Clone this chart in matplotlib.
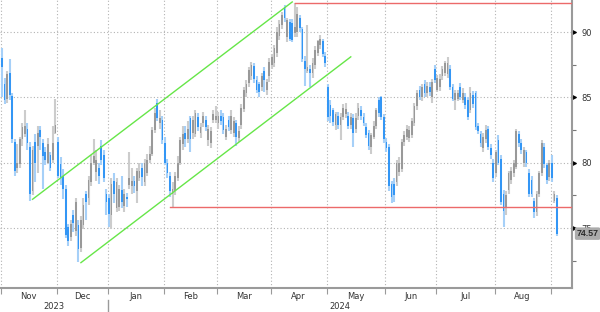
import matplotlib
matplotlib.use("Agg")
import matplotlib.pyplot as plt
import matplotlib.markers as mmarkers
import matplotlib.transforms as mtransforms
import numpy as np
import pandas as pd

# daily OHLC (Nov 1 2023 .. Sep 4 2024)
opens = [
    88.0, 86.0, 84.9, 86.9, 85.1, 81.6, 79.6, 79.9, 81.8, 82.2, 82.6, 81.2, 77.8, 81.6, 81.3, 82.5, 81.5, 80.8, 80.0,
    80.6, 80.2, 82.3, 81.6, 79.9, 79.0, 78.0, 75.1, 74.3, 76.0, 74.8, 75.2, 73.5, 75.2, 77.6, 77.3, 78.5, 80.0,
    79.3, 79.6, 81.3, 80.6, 77.6, 77.3, 76.0, 78.6, 76.5, 76.6, 77.9, 76.7, 77.4, 78.3, 78.2, 78.6, 77.8, 78.8, 79.6,
    78.5, 79.2, 80.2, 80.7, 82.5, 84.6, 83.0, 83.3, 81.5, 80.0, 79.0, 77.6, 77.8, 78.8, 80.0, 81.4, 82.3, 81.8,
    83.4, 82.3, 82.2, 83.5, 82.3, 83.0, 83.3, 81.7, 81.5, 83.3, 83.3, 83.0, 83.6, 83.5, 82.0, 83.3, 82.5, 82.3, 83.0,
    81.9, 82.9, 84.1, 85.3, 86.1, 86.6, 87.4, 86.3, 86.0, 85.8, 87.0, 85.6, 86.6, 87.5, 87.6, 88.4, 89.7, 90.5, 91.9,
    89.6, 90.8, 90.7, 89.9, 90.0, 91.1, 90.2, 87.8, 87.0, 87.2, 86.9, 87.5, 88.4, 89.0, 89.3, 88.2, 85.8, 84.4, 84.0,
    82.9, 83.6, 82.9, 83.5, 83.7, 83.6, 82.9, 83.4, 82.6, 83.6, 84.0, 83.5, 82.7, 82.3, 81.2, 82.0, 82.8, 84.8,
    85.0, 83.5, 81.6, 81.2, 78.4, 78.4, 78.5, 79.3, 79.5, 81.6, 82.0, 81.9, 82.1, 83.0, 84.3, 85.6, 85.0, 86.0, 85.3,
    85.8, 85.0, 87.2, 85.6, 85.8, 86.6, 86.9, 86.8, 87.2, 85.8, 84.8, 84.9, 85.8, 84.8, 85.0, 84.8, 84.0, 85.2,
    85.3, 82.8, 82.2, 81.1, 81.8, 82.6, 81.1, 80.0, 79.2, 81.7, 80.3, 77.6, 76.6, 77.9, 78.7, 79.2, 79.7, 82.2, 81.5,
    80.0, 80.8, 79.2, 78.7, 77.1, 76.2, 77.6, 79.2, 81.2, 79.8, 78.9, 80.0, 77.1, 77.3,
]
highs = [
    88.8, 86.5, 87.0, 87.9, 85.3, 81.8, 81.4, 82.0, 83.0, 84.0, 83.0, 81.6, 81.3, 82.2, 82.8, 82.8, 81.8, 81.2, 81.9,
    80.8, 82.8, 84.9, 82.0, 80.4, 79.5, 78.3, 75.3, 75.6, 76.4, 77.3, 75.6, 75.9, 77.3, 77.8, 79.0, 80.6, 81.8,
    81.0, 80.0, 81.7, 81.0, 78.0, 77.6, 78.8, 79.2, 78.8, 78.3, 79.0, 78.0, 77.7, 80.8, 79.6, 79.0, 79.6, 80.0, 80.0,
    80.3, 80.7, 81.3, 82.7, 84.2, 84.9, 84.0, 83.6, 82.0, 80.3, 79.3, 78.5, 79.3, 80.5, 82.0, 82.8, 82.8, 83.2,
    83.6, 83.6, 84.0, 83.8, 83.0, 83.9, 83.6, 82.9, 82.7, 84.0, 84.3, 83.9, 84.0, 83.8, 82.9, 83.6, 84.0, 83.5, 83.3,
    82.8, 84.5, 85.8, 86.3, 87.3, 87.7, 87.6, 86.6, 86.2, 86.9, 87.3, 86.4, 88.0, 88.3, 89.0, 90.4, 90.9, 91.5, 92.1,
    91.1, 91.0, 91.0, 92.2, 91.9, 91.3, 90.4, 88.2, 90.5, 87.5, 88.0, 88.9, 89.4, 89.8, 89.5, 88.5, 86.0, 84.8, 84.2,
    83.9, 83.9, 83.8, 84.5, 84.6, 83.9, 83.8, 83.7, 83.8, 84.6, 84.3, 83.8, 83.0, 82.5, 82.3, 83.2, 84.2, 85.0,
    85.1, 83.7, 81.9, 81.4, 78.6, 78.8, 80.2, 80.4, 81.8, 82.4, 82.9, 82.8, 83.4, 84.6, 85.6, 85.9, 86.0, 86.3, 86.2,
    86.2, 86.4, 87.5, 86.7, 86.8, 87.4, 87.8, 88.1, 87.5, 86.0, 85.6, 85.6, 86.1, 85.7, 85.3, 85.0, 85.8, 85.5,
    85.5, 83.0, 82.4, 82.3, 82.9, 82.8, 81.4, 80.3, 81.0, 82.1, 80.6, 77.9, 77.8, 79.4, 79.7, 80.2, 82.6, 82.4, 81.8,
    81.2, 81.0, 79.5, 79.0, 77.3, 77.8, 79.4, 81.7, 81.5, 80.0, 80.2, 80.6, 77.8, 77.5,
]
lows = [
    85.0, 84.5, 84.6, 84.8, 81.5, 79.0, 79.2, 79.6, 81.3, 82.0, 81.0, 77.1, 77.5, 78.5, 79.2, 81.0, 78.0, 79.8, 79.9,
    79.4, 80.0, 82.2, 78.8, 78.3, 77.2, 74.2, 73.6, 74.0, 74.7, 74.4, 72.4, 73.2, 74.9, 75.6, 76.8, 78.2, 79.8,
    78.6, 78.4, 79.8, 78.5, 76.0, 75.1, 74.9, 76.9, 76.2, 76.3, 76.5, 76.2, 76.6, 78.0, 77.6, 77.7, 76.9, 78.6, 78.2,
    78.2, 79.0, 80.0, 80.5, 82.3, 83.2, 82.6, 81.4, 79.8, 78.8, 77.4, 76.6, 77.5, 78.6, 79.8, 81.0, 81.2, 81.5,
    80.8, 81.8, 82.0, 82.4, 81.9, 82.7, 82.4, 81.3, 81.1, 83.0, 83.0, 82.6, 82.9, 82.2, 81.7, 82.4, 82.2, 82.0, 81.3,
    81.6, 82.6, 83.9, 85.0, 85.8, 86.3, 86.1, 85.3, 85.0, 85.5, 85.4, 85.2, 86.2, 87.2, 87.3, 88.1, 89.4, 90.2, 90.8,
    89.2, 89.3, 89.2, 89.6, 89.6, 90.0, 87.7, 85.9, 86.9, 85.8, 86.5, 87.2, 88.2, 88.7, 88.1, 87.3, 83.2, 83.0, 82.8,
    82.5, 82.6, 81.7, 83.3, 83.4, 82.6, 82.6, 81.2, 82.3, 83.3, 83.3, 82.8, 81.9, 81.0, 80.7, 81.8, 82.6, 83.5,
    83.3, 81.5, 80.8, 77.8, 76.9, 77.0, 78.2, 79.0, 79.3, 81.3, 81.7, 81.6, 81.9, 82.8, 84.0, 84.8, 84.7, 85.0, 85.0,
    85.1, 84.6, 86.1, 85.4, 85.5, 86.3, 86.6, 86.5, 85.6, 84.7, 84.0, 84.7, 84.8, 84.6, 84.1, 83.3, 83.8, 84.2,
    82.5, 82.2, 81.2, 80.8, 81.5, 81.0, 80.3, 78.5, 78.9, 79.8, 76.8, 75.1, 76.0, 77.6, 78.4, 78.9, 79.5, 81.2, 80.7,
    79.7, 79.7, 77.4, 77.4, 75.8, 75.9, 77.4, 79.0, 79.6, 78.4, 78.6, 78.5, 76.9, 74.4,
]
closes = [
    87.3, 84.8, 86.8, 85.2, 81.8, 79.4, 80.0, 81.8, 82.7, 82.8, 81.5, 77.6, 81.0, 80.0, 82.3, 82.0, 80.5, 80.2, 81.4,
    79.6, 81.5, 82.9, 79.0, 78.8, 78.0, 74.5, 74.0, 75.3, 75.4, 77.0, 73.4, 75.6, 76.8, 77.0, 78.7, 80.0, 80.5,
    80.2, 79.0, 80.2, 78.8, 77.0, 76.1, 78.4, 77.6, 78.5, 78.0, 77.0, 77.6, 77.2, 78.8, 78.6, 78.2, 79.4, 79.4, 78.9,
    80.0, 80.2, 80.7, 82.5, 83.8, 83.4, 83.4, 81.7, 80.0, 79.2, 77.8, 78.0, 79.0, 80.0, 81.7, 82.2, 81.8, 82.6,
    81.8, 83.3, 83.8, 82.7, 82.7, 83.6, 82.7, 82.6, 82.4, 83.7, 83.6, 83.6, 83.2, 82.5, 82.6, 82.7, 83.6, 83.2, 82.0,
    82.4, 84.2, 85.6, 86.0, 87.1, 87.5, 86.4, 85.6, 85.4, 86.6, 86.3, 86.2, 87.7, 88.1, 88.8, 90.0, 90.6, 91.3, 91.1,
    90.9, 89.5, 89.4, 90.4, 91.4, 90.3, 87.9, 87.2, 87.3, 86.9, 87.6, 88.6, 89.3, 89.5, 88.3, 87.6, 83.5, 83.6, 83.1,
    83.7, 82.9, 83.5, 84.2, 84.1, 82.8, 83.5, 82.3, 83.4, 84.2, 83.6, 83.0, 82.1, 81.3, 82.1, 82.8, 84.0, 83.8,
    83.5, 81.8, 81.1, 78.2, 77.4, 77.5, 80.0, 80.0, 81.6, 82.1, 82.6, 82.5, 83.2, 84.3, 85.3, 85.0, 85.8, 85.3, 85.9,
    85.4, 86.2, 86.3, 86.5, 86.4, 87.2, 87.6, 87.6, 85.8, 84.9, 85.3, 85.3, 85.0, 85.3, 84.4, 83.5, 85.3, 84.5,
    82.7, 82.4, 81.5, 82.0, 82.5, 81.2, 80.6, 78.8, 80.8, 80.0, 77.0, 76.3, 77.5, 79.2, 79.4, 80.0, 82.4, 81.5, 81.0,
    81.0, 80.0, 77.6, 77.6, 76.2, 77.6, 79.2, 81.5, 79.9, 78.7, 80.0, 78.8, 77.6, 74.57,
]

dates = pd.bdate_range("2023-11-01", "2024-09-04")
dates = dates.drop(pd.to_datetime(["2023-12-25", "2024-01-01"]))

# drawn lines: (start date, price, end date, price)
upper_channel = ("2023-11-17", 77.2, "2024-04-11", 92.3)
lower_channel = ("2023-12-14", 72.35, "2024-05-14", 88.1)
# horizontal levels: (start date, price)
resistance = ("2024-04-12", 92.2)
support = ("2024-02-05", 76.6)

y_major = [75, 80, 85, 90]
y_minor = [72.5, 77.5, 82.5, 87.5]

o = np.array(opens)
h = np.array(highs)
l = np.array(lows)
c = np.array(closes)
x = np.arange(len(dates))


def pos(d):
    return dates.get_loc(pd.Timestamp(d))


plt.rcParams["font.family"] = "DejaVu Sans"
txt_col = "#333333"

fig = plt.figure(figsize=(6, 3.12), dpi=100)
ax = fig.add_axes([0, 24 / 312, 572 / 600, 288 / 312])

up = c >= o
wick_col = np.where(up, "#cccccc", "#a6d0f8")
body_col = np.where(up, "#999999", "#3396f5")
ax.vlines(x, l, h, colors=wick_col, lw=1.5, zorder=2)
ax.bar(x, np.maximum(np.abs(c - o), 0.1), bottom=np.minimum(o, c), width=0.68,
       color=body_col, lw=0, zorder=3)

xmin, xmax = -0.79, 223.9
green = "#66e648"
for d0, p0, d1, p1 in [upper_channel, lower_channel]:
    ax.plot([pos(d0), pos(d1)], [p0, p1], color=green, lw=1.0, zorder=4)
red = "#ec6a6a"
for d0, p in [resistance, support]:
    ax.plot([pos(d0), xmax], [p, p], color=red, lw=1.0, zorder=4)

ax.set_xlim(xmin, xmax)
ax.set_ylim(70.41, 92.45)

for s in ["top", "left"]:
    ax.spines[s].set_visible(False)
for s in ["right", "bottom"]:
    ax.spines[s].set_color("#9a9a9a")
    ax.spines[s].set_linewidth(1.5)

# y axis on the right with little arrow ticks
ax.yaxis.tick_right()
ax.set_yticks(y_major)
ax.set_yticks(y_minor, minor=True)
ax.set_yticklabels([str(v) for v in y_major])
ax.tick_params(axis="y", which="major", length=5, pad=1.5, labelsize=6, labelcolor=txt_col)
ax.tick_params(axis="y", which="minor", length=3, width=0.8, color="#777777")
for t in ax.yaxis.get_major_ticks():
    t.tick2line.set_marker(mmarkers.CARETRIGHTBASE)
    t.tick2line.set_markersize(3.5)
    t.tick2line.set_color("black")

# month boundaries and labels
month_id = dates.year * 12 + dates.month
starts = [0] + list(np.where(np.diff(month_id) != 0)[0] + 1)
bounds = [s - 0.5 for s in starts]
mids = [(bounds[k] + bounds[k + 1]) / 2 for k in range(len(bounds) - 1)]
names = [dates[starts[k]].strftime("%b") for k in range(len(bounds) - 1)]
ax.set_xticks(bounds)
ax.set_xticklabels([""] * len(bounds))
ax.set_xticks(mids, minor=True)
ax.set_xticklabels(names, minor=True)
ax.tick_params(axis="x", which="major", length=4, width=0.8, color="#9a9a9a")
ax.tick_params(axis="x", which="minor", length=0, pad=3, labelsize=6, labelcolor=txt_col)

ax.grid(True, which="major", color="#b3b3b3", linestyle=(0, (1, 2)), lw=0.8)
ax.set_axisbelow(True)

# year labels under the months
trans = mtransforms.blended_transform_factory(ax.transData, ax.transAxes)
year_break = bounds[[dates[s].year for s in starts].index(2024)]
ax.text((xmin + year_break) / 2, -0.063, "2023", transform=trans, ha="center", va="center",
        fontsize=6, color=txt_col)
ax.text((year_break + xmax) / 2, -0.063, "2024", transform=trans, ha="center", va="center",
        fontsize=6, color=txt_col)
ax.plot([year_break, year_break], [-0.04, -0.085], transform=trans, clip_on=False,
        color="#9a9a9a", lw=1)

# last price tag
trans_y = mtransforms.blended_transform_factory(ax.transAxes, ax.transData)
ax.annotate(f"{closes[-1]:.2f}", xy=(1, closes[-1]), xycoords=trans_y, xytext=(3.3, 0),
            textcoords="offset points", ha="left", va="center", fontsize=6.3, fontweight="bold",
            family="Liberation Sans", color="#2a2a2a", annotation_clip=False, zorder=6,
            bbox=dict(boxstyle="round,pad=0.2", fc="#ababab", ec="none"))

fig.savefig("out.png", dpi=100)
